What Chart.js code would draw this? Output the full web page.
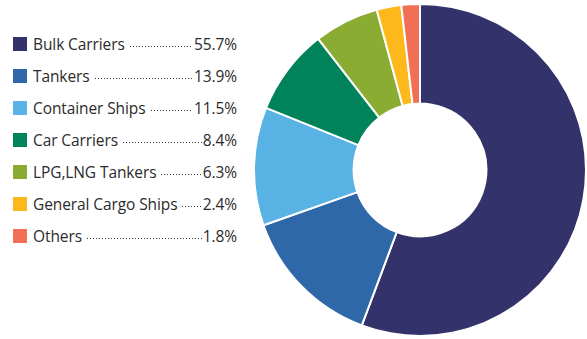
<!DOCTYPE html>
<html>
<head>
<meta charset="utf-8">
<script src="https://cdn.jsdelivr.net/npm/chart.js@4"></script>
<style>
  body { margin: 0; background: #fff; width: 587px; height: 339px; overflow: hidden; position: relative; font-family: "Open Sans", sans-serif; }
  #wrap { position: absolute; left: 253px; top: 3px; width: 334px; height: 334px; }
  #legend { position: absolute; left: 13px; top: 28px; width: 224px; }
  .row { display: flex; align-items: center; height: 32px; font-size: 15.5px; color: #2b2b2b; letter-spacing: -0.1px; }
  .box { width: 14px; height: 14px; margin-right: 6px; flex: none; }
  .dots { flex: 1; height: 1.4px; align-self: center; margin: 6px 1px 0 5px;
    background-image: linear-gradient(to right, #333 1.4px, transparent 1.4px);
    background-size: 3px 1.4px; background-repeat: repeat-x; }
</style>
</head>
<body>
<div id="legend"></div>
<div id="wrap"><canvas id="chart"></canvas></div>
<script>
const categories = ['Bulk Carriers', 'Tankers', 'Container Ships', 'Car Carriers', 'LPG,LNG Tankers', 'General Cargo Ships', 'Others'];
const shares = [55.7, 13.9, 11.5, 8.4, 6.3, 2.4, 1.8];
const colors = ['#33326a', '#2e68a8', '#59b2e4', '#00835a', '#8aac32', '#fdb81c', '#f17055'];

// legend with dotted leaders
const legend = document.getElementById('legend');
categories.forEach((name, i) => {
  const row = document.createElement('div');
  row.className = 'row';
  row.innerHTML = '<span class="box" style="background:' + colors[i] + '"></span>' +
    '<span>' + name + '</span><span class="dots"></span><span>' + shares[i].toFixed(1) + '%</span>';
  legend.appendChild(row);
});

new Chart(document.getElementById('chart'), {
  type: 'doughnut',
  data: {
    labels: categories,
    datasets: [{
      data: shares,
      backgroundColor: colors,
      borderColor: '#fff',
      borderWidth: 2
    }]
  },
  options: {
    responsive: true,
    maintainAspectRatio: false,
    animation: false,
    cutout: '40%',
    plugins: {
      legend: { display: false },
      tooltip: { enabled: false }
    }
  }
});
</script>
</body>
</html>
